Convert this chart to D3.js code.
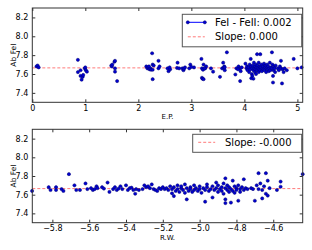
<!DOCTYPE html>
<html>
<head>
<meta charset="utf-8">
<script src="https://cdn.jsdelivr.net/npm/d3@7"></script>
<style>
  body { margin: 0; background: #fff; }
  text { font-family: "DejaVu Sans", sans-serif; }
</style>
</head>
<body>
<script>
// FeI lines: abundance against excitation potential (E.P.)
var epPoints = [
  [0.08,7.68],[0.1,7.69],[0.12,7.67],
  [0.86,7.75],[0.86,7.62],[0.91,7.64],[0.91,7.58],[0.93,7.54],[0.95,7.57],[0.96,7.59],[0.99,7.66],[1.0,7.67],[1.01,7.64],[1.03,7.625],
  [1.49,7.69],[1.5,7.68],[1.51,7.70],[1.55,7.73],[1.56,7.74],[1.56,7.66],[1.56,7.625],[1.6,7.525],
  [2.15,7.68],[2.17,7.66],[2.19,7.67],[2.2,7.68],[2.21,7.65],[2.23,7.66],[2.24,7.645],[2.26,7.82],[2.27,7.70],[2.27,7.645],[2.27,7.545],[2.29,7.69],[2.38,7.74],[2.38,7.66],[2.4,7.68],
  [2.55,7.66],[2.57,7.63],[2.6,7.65],[2.59,7.67],
  [2.74,7.72],[2.73,7.665],[2.77,7.66],
  [2.83,7.66],[2.85,7.64],[2.86,7.655],[2.88,7.67],
  [2.98,7.70],[2.96,7.66],[3.05,7.67],[3.0,7.675],
  [3.19,7.76],[3.2,7.66],[3.23,7.70],[3.26,7.66],[3.22,7.645],[3.28,7.68],[3.2,7.56],[3.21,7.55],[3.23,7.545],[3.25,7.66],
  [3.37,7.66],[3.41,7.625],
  [3.54,7.57],[3.58,7.66],[3.6,7.72],[3.61,7.665],[3.63,7.64],[3.62,7.68],[3.67,7.83],[3.63,7.67],
  [3.83,7.595],[3.85,7.66],[3.89,7.68],[3.92,7.66],[3.93,7.63],[3.92,7.525],[3.95,7.67],[3.88,7.65],
  [4.02,7.71],[4.04,7.66],[4.05,7.68],[4.06,7.64],[4.08,7.67],[4.09,7.62],[4.1,7.70],[4.11,7.65],[4.12,7.76],[4.13,7.555],
  [4.13,7.68],[4.14,7.60],[4.15,7.66],[4.15,7.58],[4.16,7.69],[4.17,7.64],[4.17,7.55],[4.18,7.72],[4.19,7.66],[4.2,7.68],
  [4.2,7.62],[4.21,7.65],[4.22,7.70],[4.22,7.60],[4.23,7.67],[4.24,7.81],[4.24,7.64],[4.25,7.69],[4.26,7.66],[4.27,7.62],
  [4.27,7.72],[4.28,7.65],[4.29,7.68],[4.3,7.81],[4.3,7.64],[4.31,7.67],[4.32,7.70],[4.33,7.63],[4.34,7.66],[4.35,7.68],
  [4.36,7.65],[4.37,7.71],[4.38,7.64],[4.39,7.67],[4.4,7.69],[4.41,7.62],[4.42,7.66],[4.43,7.70],[4.44,7.65],[4.45,7.68],
  [4.46,7.63],[4.47,7.66],[4.48,7.72],[4.49,7.64],[4.5,7.67],[4.52,7.83],[4.52,7.66],[4.53,7.70],[4.54,7.51],[4.54,7.58],
  [4.55,7.64],[4.56,7.68],[4.57,7.66],[4.58,7.62],[4.59,7.69],
  [4.63,7.66],[4.65,7.64],[4.67,7.68],[4.69,7.74],[4.69,7.66],[4.71,7.50],[4.72,7.65],[4.74,7.62],[4.76,7.66],[4.8,7.64],
  [4.93,7.76],[5.0,7.66],[5.08,7.67]
];

// FeI lines: abundance against reduced width (R.W.)
var rwPoints = [
  [-5.91,7.64],[-5.82,7.68],[-5.81,7.65],[-5.78,7.68],[-5.78,7.65],[-5.75,7.66],[-5.74,7.64],[-5.71,7.82],[-5.68,7.70],[-5.67,7.65],
  [-5.65,7.65],[-5.62,7.72],[-5.61,7.66],[-5.59,7.67],[-5.58,7.65],[-5.57,7.66],[-5.56,7.69],[-5.555,7.67],[-5.53,7.68],[-5.52,7.665],
  [-5.50,7.73],[-5.49,7.63],[-5.47,7.66],[-5.46,7.68],[-5.45,7.65],[-5.44,7.665],[-5.43,7.69],[-5.42,7.66],[-5.40,7.70],[-5.39,7.65],
  [-5.38,7.67],[-5.37,7.675],[-5.36,7.65],[-5.35,7.61],[-5.345,7.66],[-5.33,7.65],[-5.31,7.66],[-5.30,7.70],[-5.29,7.68],[-5.28,7.69],
  [-5.27,7.67],[-5.26,7.71],[-5.25,7.66],[-5.24,7.65],[-5.23,7.64],[-5.22,7.67],[-5.21,7.66],[-5.2,7.68],
  [-5.19,7.66],[-5.18,7.67],[-5.17,7.65],[-5.16,7.69],[-5.15,7.615],[-5.15,7.66],[-5.14,7.585],[-5.14,7.68],[-5.13,7.64],[-5.12,7.70],
  [-5.12,7.66],[-5.11,7.63],[-5.10,7.67],[-5.10,7.69],[-5.09,7.65],[-5.08,7.71],[-5.08,7.62],[-5.07,7.55],[-5.07,7.67],[-5.06,7.64],
  [-5.05,7.68],[-5.05,7.66],[-5.04,7.63],[-5.03,7.70],[-5.03,7.65],[-5.02,7.67],[-5.01,7.64],[-5.00,7.69],[-5.00,7.66],[-4.99,7.62],
  [-4.98,7.67],[-4.97,7.525],[-4.97,7.65],[-4.96,7.71],[-4.96,7.68],[-4.95,7.64],[-4.94,7.66],[-4.93,7.57],[-4.93,7.69],[-4.92,7.65],
  [-4.91,7.73],[-4.91,7.67],[-4.90,7.63],[-4.90,7.70],[-4.89,7.66],[-4.88,7.68],[-4.88,7.64],[-4.87,7.72],[-4.87,7.61],[-4.86,7.775],
  [-4.86,7.55],[-4.86,7.51],[-4.86,7.67],[-4.85,7.65],[-4.85,7.70],[-4.84,7.63],[-4.84,7.68],[-4.83,7.515],[-4.83,7.66],[-4.82,7.75],
  [-4.82,7.64],[-4.81,7.69],[-4.81,7.62],[-4.80,7.67],[-4.80,7.65],[-4.79,7.535],[-4.79,7.70],[-4.78,7.66],[-4.78,7.63],[-4.77,7.68],
  [-4.76,7.765],[-4.76,7.65],[-4.75,7.67],[-4.74,7.66],
  [-4.72,7.67],[-4.71,7.66],[-4.70,7.535],[-4.69,7.70],[-4.68,7.83],[-4.68,7.66],[-4.67,7.72],[-4.66,7.56],[-4.66,7.65],[-4.65,7.69],
  [-4.64,7.83],[-4.64,7.61],[-4.63,7.75],[-4.63,7.59],[-4.62,7.67],[-4.58,7.65],[-4.56,7.685],[-4.56,7.74],[-4.44,7.82]
];

var epTicks = [0, 1, 2, 3, 4, 5],
    rwTicks = [-5.8, -5.6, -5.4, -5.2, -5.0, -4.8, -4.6],
    abTicks = [7.4, 7.6, 7.8, 8.0, 8.2];

var fitLevel = 7.665; // flat fit line (slope ~0)

var width = 312, height = 250;
var left = 32.3, right = 302.7;

var svg = d3.select('body').append('svg')
  .attr('width', width)
  .attr('height', height);

// one panel: scatter, fit line, axes, legend
function panel(opt) {
  var x = d3.scaleLinear().domain(opt.xDomain).range([left, right]);
  var y = d3.scaleLinear().domain([7.3, 8.3]).range([opt.bottom, opt.top]);
  var g = svg.append('g');

  // fit line
  g.append('line')
    .attr('x1', left).attr('x2', right)
    .attr('y1', y(fitLevel)).attr('y2', y(fitLevel))
    .attr('stroke', '#ff7a7a').attr('stroke-width', 1)
    .attr('stroke-dasharray', '3,2');

  // points
  g.selectAll('circle')
    .data(opt.points)
    .enter().append('circle')
    .attr('cx', function(d) { return x(d[0]); })
    .attr('cy', function(d) { return y(d[1]); })
    .attr('r', 1.6)
    .attr('fill', '#0000d0')
    .attr('stroke', '#000070')
    .attr('stroke-width', 0.5);

  // axes, ticks pointing inward
  g.append('g').attr('transform', 'translate(0,' + opt.bottom + ')')
    .call(d3.axisBottom(x).tickValues(opt.xTicks).tickFormat(opt.xFormat).tickSize(-3).tickPadding(3).tickSizeOuter(0));
  g.append('g').attr('transform', 'translate(0,' + opt.top + ')')
    .call(d3.axisTop(x).tickValues(opt.xTicks).tickFormat('').tickSize(-3).tickSizeOuter(0));
  g.append('g').attr('transform', 'translate(' + left + ',0)')
    .call(d3.axisLeft(y).tickValues(abTicks).tickFormat(d3.format('.1f')).tickSize(-3).tickPadding(4).tickSizeOuter(0));
  g.append('g').attr('transform', 'translate(' + right + ',0)')
    .call(d3.axisRight(y).tickValues(abTicks).tickFormat('').tickSize(-3).tickSizeOuter(0));

  g.selectAll('.domain').remove();
  g.selectAll('.tick line').attr('stroke', '#333');
  g.selectAll('.tick text').attr('font-size', 8).attr('fill', '#000');

  // frame
  g.append('rect')
    .attr('x', left).attr('y', opt.top)
    .attr('width', right - left).attr('height', opt.bottom - opt.top)
    .attr('fill', 'none').attr('stroke', '#333').attr('stroke-width', 1);

  // axis labels
  g.append('text')
    .attr('x', (left + right) / 2).attr('y', opt.bottom + 17)
    .attr('text-anchor', 'middle').attr('font-size', 7)
    .text(opt.xLabel);
  g.append('text')
    .attr('transform', 'translate(16,' + (opt.top + opt.bottom) / 2 + ') rotate(-90)')
    .attr('text-anchor', 'middle').attr('font-size', 7.5)
    .text('Ab FeI');

  // legend
  var lg = opt.legend;
  g.append('rect')
    .attr('x', lg.x).attr('y', lg.y)
    .attr('width', right - 1 - lg.x).attr('height', lg.rows.length * 14.5 + 3.5)
    .attr('fill', '#fff').attr('stroke', '#555').attr('stroke-width', 1);
  lg.rows.forEach(function(r, i) {
    var ry = lg.y + 8 + i * 14.5;
    var x0 = lg.x + 5.5, x1 = x0 + 17;
    if (r.kind === 'points') {
      g.append('line').attr('x1', x0).attr('x2', x1).attr('y1', ry).attr('y2', ry)
        .attr('stroke', '#0000ff').attr('stroke-width', 1);
      [x0, x1].forEach(function(cx) {
        g.append('circle').attr('cx', cx).attr('cy', ry).attr('r', 1.6)
          .attr('fill', '#0000d0').attr('stroke', '#000070').attr('stroke-width', 0.5);
      });
    } else {
      g.append('line').attr('x1', x0).attr('x2', x1).attr('y1', ry).attr('y2', ry)
        .attr('stroke', '#ff7a7a').attr('stroke-width', 1).attr('stroke-dasharray', '3,2');
    }
    g.append('text')
      .attr('x', lg.textX).attr('y', ry + 3.6)
      .attr('font-size', 10)
      .text(r.label);
  });
}

panel({
  points: epPoints,
  xDomain: [0, 5.1],
  xTicks: epTicks,
  xFormat: d3.format('d'),
  xLabel: 'E.P.',
  top: 8, bottom: 102.3,
  legend: { x: 182.3, y: 14.3, textX: 215,
    rows: [{ kind: 'points', label: 'FeI - FeII: 0.002' }, { kind: 'dash', label: 'Slope: 0.000' }] }
});

panel({
  points: rwPoints,
  xDomain: [-5.909, -4.44],
  xTicks: rwTicks,
  xFormat: d3.format('.1f'),
  xLabel: 'R.W.',
  top: 129.3, bottom: 222.7,
  legend: { x: 192.7, y: 134.3, textX: 225,
    rows: [{ kind: 'dash', label: 'Slope: -0.000' }] }
});
</script>
</body>
</html>
